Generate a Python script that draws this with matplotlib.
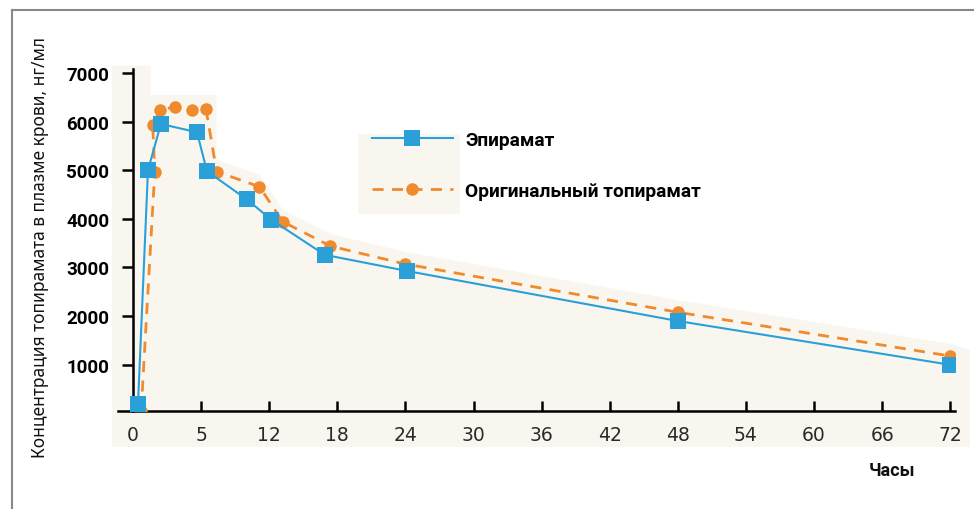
import numpy as np
import matplotlib
matplotlib.use("Agg")
import matplotlib.pyplot as plt
from matplotlib.patches import Rectangle, Polygon
from matplotlib.lines import Line2D

# Эпирамат (часы, нг/мл)
epi_h = [0.37, 1.1, 2.05, 4.7, 5.6, 9.7, 12.2, 16.9, 24.1, 48, 72]
epi_c = [200, 5000, 5950, 5780, 4980, 4400, 3980, 3260, 2930, 1900, 1000]

# Оригинальный топирамат
orig_h = [0.6, 1.6, 1.45, 2.0, 3.1, 4.3, 5.5, 6.6, 11.0, 13.2, 17.4, 24.0, 48, 72]
orig_c = [50, 4970, 5920, 6240, 6300, 6230, 6260, 4970, 4660, 3940, 3440, 3070, 2080, 1180]

x_ticks = [0, 5, 12, 18, 24, 30, 36, 42, 48, 54, 60, 66, 72]
y_ticks = [1000, 2000, 3000, 4000, 5000, 6000, 7000]

BLEU = "#2a9fd8"
ORANGE = "#f08a2c"
CREME = "#f9f6ef"


# échelle non linéaire de l'axe des heures : 0-5, 5-12, puis pas de 6 h
def fwd(h):
    h = np.asarray(h, dtype=float)
    return np.where(h < 5, h / 5, np.where(h < 12, 1 + (h - 5) / 7, 2 + (h - 12) / 6))


def inv(p):
    p = np.asarray(p, dtype=float)
    return np.where(p < 1, 5 * p, np.where(p < 2, 5 + 7 * (p - 1), 12 + 6 * (p - 2)))


fig = plt.figure(figsize=(9.74, 5.10), dpi=100)
ax = fig.add_axes([118 / 974, 1 - 412 / 510, (955 - 118) / 974, (412 - 70) / 510])
ax.set_xscale("function", functions=(fwd, inv))
ax.set_xlim(inv(-0.22), inv(12.07))
ax.set_ylim(50, 7080)

# cadre gris de la page
fig.add_artist(Line2D([12 / 974, 12 / 974], [0, 1 - 11 / 510], color="#888888", lw=1.5))
fig.add_artist(Line2D([12 / 974, 1], [1 - 11 / 510, 1 - 11 / 510], color="#888888", lw=1.5))

# fond crème sous les courbes
haut = [(inv(-0.31), 7150), (1.3, 7150), (1.3, 6550), (6.6, 6550)]
haut += [(h, c + 250) for h, c in zip(orig_h[7:], orig_c[7:])]
haut += [(inv(12.29), 1300)]
poly = [(inv(-0.31), -690)] + haut + [(inv(12.29), -690)]
ax.add_patch(Polygon(poly, closed=True, facecolor=CREME, edgecolor="none",
                     clip_on=False, zorder=0))

ax.plot(orig_h, orig_c, color=ORANGE, lw=2, ls=(0, (4, 3)), marker="o",
        markersize=9, markeredgewidth=0, label="Оригинальный топирамат", zorder=3)
ax.plot(epi_h, epi_c, color=BLEU, lw=1.5, marker="s", markersize=11.5,
        markeredgewidth=0, label="Эпирамат", zorder=4)

for s in ["top", "right"]:
    ax.spines[s].set_visible(False)
ax.spines["left"].set_position(("data", 0))
ax.spines["left"].set_linewidth(1.8)
ax.spines["bottom"].set_linewidth(1.8)
ax.patch.set_visible(False)

ax.set_xticks(x_ticks)
ax.set_xticklabels([str(t) for t in x_ticks])
ax.set_yticks(y_ticks)
ax.set_yticklabels([str(t) for t in y_ticks])
ax.tick_params(axis="x", direction="in", length=7, width=1.8, pad=10,
               labelsize=13.5, labelcolor="#2a2a2a")
ax.tick_params(axis="y", direction="out", length=8, width=1.8, pad=9)
for lab in ax.get_xticklabels():
    lab.set_family("DejaVu Sans")
for lab in ax.get_yticklabels():
    lab.set_family("Roboto")
    lab.set_fontweight("bold")
    lab.set_fontsize(13.5)

# légende
fig.add_artist(Rectangle((358 / 974, 1 - 215 / 510), 102 / 974, 80 / 510,
                         facecolor=CREME, edgecolor="none",
                         transform=fig.transFigure, zorder=0))
h, l = ax.get_legend_handles_labels()
leg = ax.legend(h[::-1], l[::-1], loc="upper left",
                bbox_to_anchor=(372 / 974, 1 - 132 / 510),
                bbox_transform=fig.transFigure, frameon=False,
                handlelength=4.2, handletextpad=0.65, labelspacing=1.7,
                borderpad=0, borderaxespad=0,
                prop={"family": "Roboto", "weight": "bold", "size": 13.8})

fig.text(40 / 974, 1 - 248 / 510, "Концентрация топирамата в плазме крови, нг/мл",
         rotation=90, ha="center", va="center", fontsize=12.5, family="Noto Sans",
         color="#111111")
fig.text(892 / 974, 1 - 471 / 510, "Часы", ha="center", va="center",
         fontsize=13, family="Roboto", fontweight="bold", color="#111111")

fig.savefig("out.png", dpi=100, facecolor="white")
